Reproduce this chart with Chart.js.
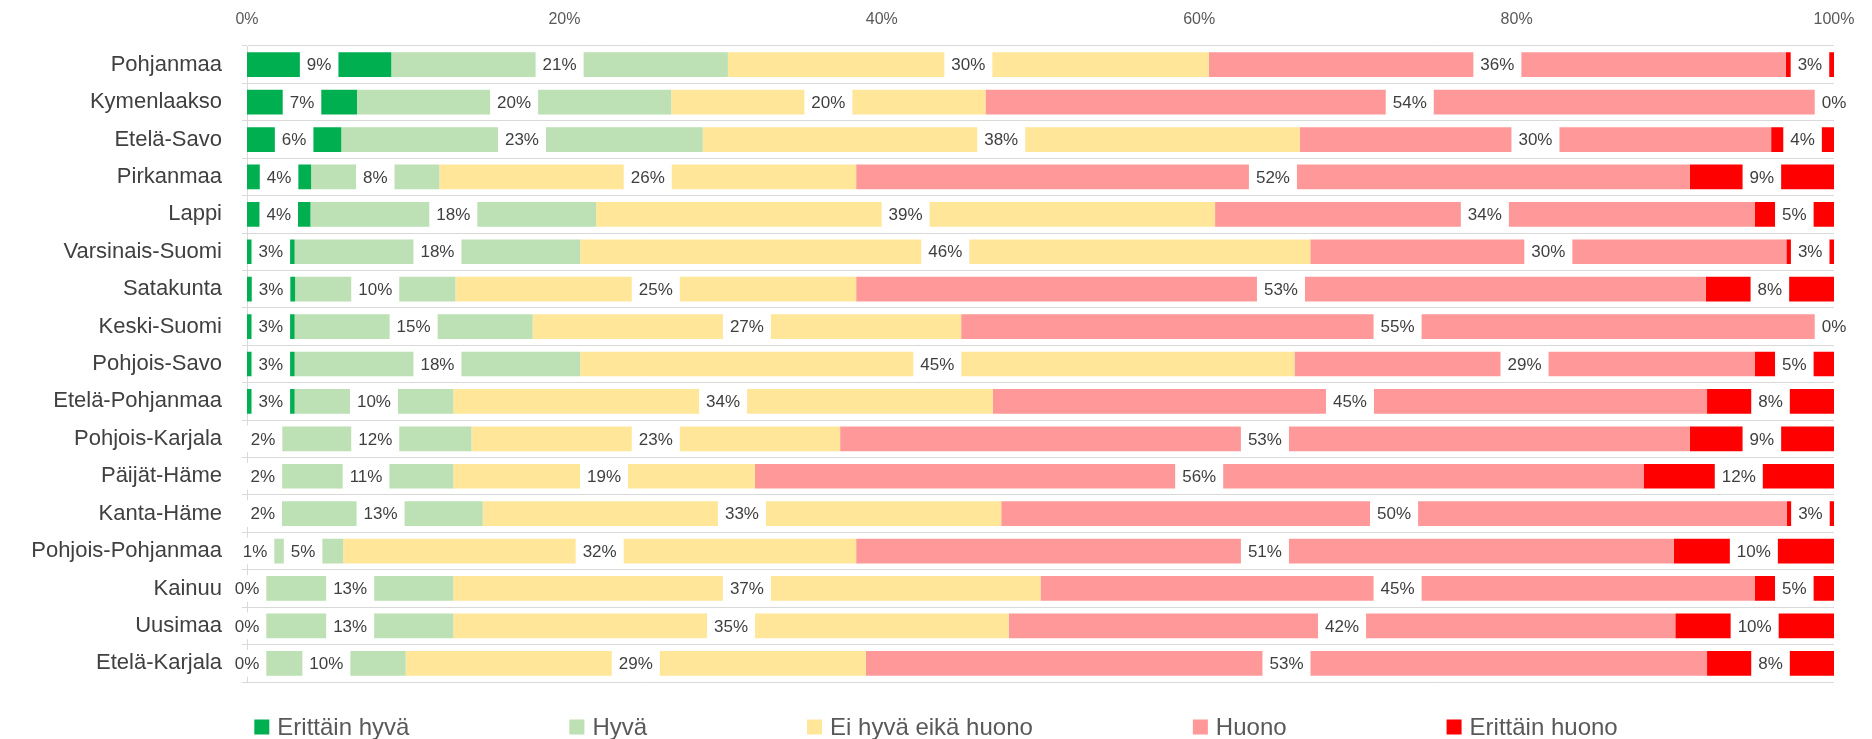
<!DOCTYPE html>
<html>
<head>
<meta charset="utf-8">
<script src="https://cdn.jsdelivr.net/npm/chart.js@4.4.1/dist/chart.umd.min.js"></script>
<style>
    html, body { margin: 0; padding: 0; background: #fff; }
</style>
</head>
<body>
<canvas id="regionsChart" width="1872" height="739"></canvas>
<script>
const regions = [
    'Pohjanmaa', 'Kymenlaakso', 'Etelä-Savo', 'Pirkanmaa', 'Lappi', 'Varsinais-Suomi',
    'Satakunta', 'Keski-Suomi', 'Pohjois-Savo', 'Etelä-Pohjanmaa', 'Pohjois-Karjala',
    'Päijät-Häme', 'Kanta-Häme', 'Pohjois-Pohjanmaa', 'Kainuu', 'Uusimaa', 'Etelä-Karjala'
];
const seriesNames = ['Erittäin hyvä', 'Hyvä', 'Ei hyvä eikä huono', 'Huono', 'Erittäin huono'];

// shares in percent as labelled in the picture
const erittainHyva    = [9, 7, 6, 4, 4, 3, 3, 3, 3, 3, 2, 2, 2, 1, 0, 0, 0];
const hyva            = [21, 20, 23, 8, 18, 18, 10, 15, 18, 10, 12, 11, 13, 5, 13, 13, 10];
const eiHyvaEikaHuono = [30, 20, 38, 26, 39, 46, 25, 27, 45, 34, 23, 19, 33, 32, 37, 35, 29];
const huono           = [36, 54, 30, 52, 34, 30, 53, 55, 29, 45, 53, 56, 50, 51, 45, 42, 53];
const erittainHuono   = [3, 0, 4, 9, 5, 3, 8, 0, 5, 8, 9, 12, 3, 10, 5, 10, 8];

const xTicks = [0, 20, 40, 60, 80, 100];

const seriesValues = [erittainHyva, hyva, eiHyvaEikaHuono, huono, erittainHuono];
const colors = ['#00B050', '#BDE0B4', '#FFE699', '#FF9999', '#FF0000'];
const FONT = '"Liberation Sans", Arial, sans-serif';

// 100% stacked: each row is scaled to its own total
const rowTotals = regions.map((_, j) => seriesValues.reduce((s, arr) => s + arr[j], 0));

Chart.defaults.font.family = FONT;

// white boxed labels centred on each segment
const segmentLabels = {
    id: 'segmentLabels',
    afterDatasetsDraw(chart) {
        const ctx = chart.ctx;
        ctx.save();
        ctx.font = '17px ' + FONT;
        ctx.textAlign = 'center';
        ctx.textBaseline = 'middle';
        chart.data.datasets.forEach((ds, i) => {
            chart.getDatasetMeta(i).data.forEach((bar, j) => {
                const p = bar.getProps(['x', 'y', 'base', 'height'], true);
                const text = ds.shown[j] + '%';
                const cx = (p.x + p.base) / 2;
                const w = ctx.measureText(text).width + 14;
                ctx.fillStyle = '#ffffff';
                ctx.fillRect(cx - w / 2, p.y - p.height / 2 - 1, w, p.height + 2);
                ctx.fillStyle = '#3f3f3f';
                ctx.fillText(text, cx, p.y + 1);
            });
        });
        ctx.restore();
    }
};

const bottomLegend = {
    id: 'bottomLegend',
    afterDraw(chart) {
        const ctx = chart.ctx;
        ctx.save();
        ctx.font = '24px ' + FONT;
        ctx.textBaseline = 'middle';
        const box = 15, textGap = 8, itemGap = 160, y = 727;
        const items = chart.data.datasets.map(ds => ({
            text: ds.label,
            color: ds.backgroundColor,
            w: box + textGap + ctx.measureText(ds.label).width
        }));
        const total = items.reduce((s, it) => s + it.w, 0) + itemGap * (items.length - 1);
        let x = (chart.width - total) / 2;
        items.forEach(it => {
            ctx.fillStyle = it.color;
            ctx.fillRect(x, y - box / 2, box, box);
            ctx.fillStyle = '#595959';
            ctx.fillText(it.text, x + box + textGap, y + 1);
            x += it.w + itemGap;
        });
        ctx.restore();
    }
};

const ctx = document.getElementById('regionsChart').getContext('2d');
const regionsChart = new Chart(ctx, {
    type: 'bar',
    data: {
        labels: regions,
        datasets: seriesNames.map((name, i) => ({
            label: name,
            shown: seriesValues[i],
            data: seriesValues[i].map((v, j) => v / rowTotals[j] * 100),
            backgroundColor: colors[i],
            borderWidth: 0,
            barPercentage: 0.66,
            categoryPercentage: 1
        }))
    },
    options: {
        indexAxis: 'y',
        responsive: false,
        animation: false,
        layout: {
            padding: { left: 0, right: 38, top: 0, bottom: 57 }
        },
        plugins: {
            legend: { display: false },
            tooltip: { enabled: false }
        },
        scales: {
            x: {
                position: 'top',
                stacked: true,
                min: 0,
                max: 100,
                afterBuildTicks: scale => {
                    scale.ticks = xTicks.map(v => ({ value: v }));
                },
                ticks: {
                    callback: v => v + '%',
                    color: '#595959',
                    font: { size: 16 },
                    padding: 17,
                    maxRotation: 0
                },
                grid: { display: false, drawTicks: false },
                border: { display: false },
                afterFit: scale => { scale.height = 46; }
            },
            y: {
                stacked: true,
                ticks: {
                    color: '#404040',
                    font: { size: 22 },
                    padding: 20
                },
                grid: { color: '#D9D9D9', tickLength: 5, offset: true },
                border: { color: '#D9D9D9' },
                afterFit: scale => { scale.width = 247; }
            }
        }
    },
    plugins: [segmentLabels, bottomLegend]
});
</script>
</body>
</html>
